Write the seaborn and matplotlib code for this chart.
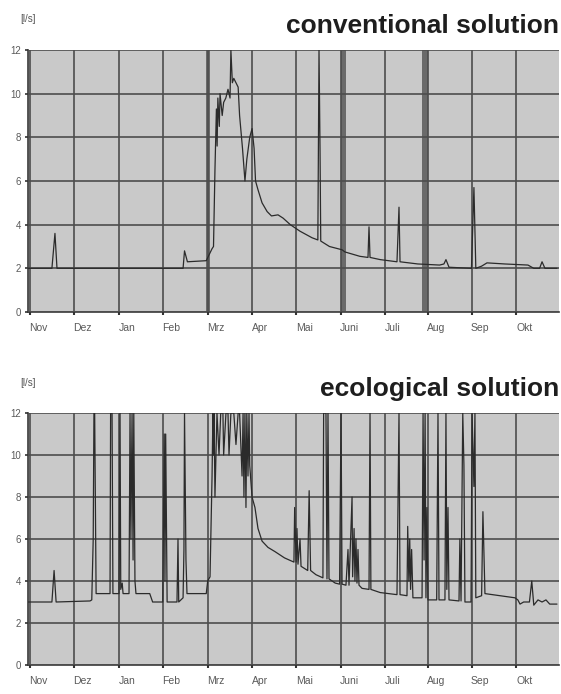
import numpy as np
import pandas as pd
import matplotlib
matplotlib.use("Agg")
import matplotlib.pyplot as plt
import seaborn as sns

# month grid (day positions of month starts) and labels
month_days = [1.4, 32, 63, 93, 124, 154.5, 185, 216, 246, 276, 306.5, 337]
month_labels = ["Nov", "Dez", "Jan", "Feb", "Mrz", "Apr", "Mai", "Juni", "Juli", "Aug", "Sep", "Okt"]
y_ticks = [0, 2, 4, 6, 8, 10, 12]

# conventional solution: discharge [l/s]
conv_day = [0, 16.5, 18.6, 20, 107, 108, 110, 123, 127, 128, 129, 130, 130.5, 131, 132,
            132.5, 134, 135, 136.5, 138, 139.4, 140, 141, 142, 143.5, 145, 146, 148, 149.7,
            151, 153, 154.6, 156, 157, 158.7, 161.5, 165, 168, 172.5, 176, 181, 187.7, 196,
            200, 200.8, 201.5, 202, 208, 216.7, 218.7, 229, 234.6, 235.3, 236, 243, 254.6,
            256, 256.7, 269, 284, 287, 288.4, 290.5, 306, 307.7, 309, 313, 316.7, 329, 345,
            349, 353, 354.7, 356.7, 365]
conv_flow = [2.0, 2.0, 3.6, 2.0, 2.0, 2.8, 2.3, 2.35, 2.9, 3.0, 6.5, 9.3, 7.6, 9.8, 8.5,
             10.0, 9.0, 9.6, 9.8, 10.2, 9.8, 12.0, 10.5, 10.7, 10.5, 10.3, 9.0, 7.5, 6.0,
             7.0, 8.0, 8.4, 7.5, 6.0, 5.6, 5.0, 4.6, 4.4, 4.45, 4.3, 4.0, 3.7, 3.4,
             3.3, 12.0, 7.5, 3.25, 3.0, 2.85, 2.75, 2.55, 2.5, 3.9, 2.5, 2.4, 2.3,
             4.8, 2.3, 2.2, 2.15, 2.2, 2.4, 2.05, 2.0, 5.7, 2.0, 2.1, 2.25, 2.2, 2.15,
             2.0, 2.0, 2.3, 2.0, 2.0]
# dark bands (missing / overflow periods) in the conventional record
conv_bands = [(123, 125.5), (216, 219.5), (272, 276)]

# ecological solution: discharge [l/s]
eco_day = [0, 16.5, 18, 19.4, 42.8, 44, 45, 45.5, 46, 47, 56.6, 57, 58, 58.6, 62.8, 63.5,
           64, 65, 65.6, 69.7, 70.4, 71, 71.8, 72.5, 73, 73.8, 74.5, 84, 86, 93, 94, 94.5,
           95, 96, 102.8, 103.5, 104, 107, 107.6, 108, 109, 109.7, 123, 124, 125.6, 127,
           127.6, 128, 128.4, 129, 130.4, 131.8, 133, 134.5, 135, 136.6, 138, 138.7, 140,
           142, 143.5, 145, 146, 147.7, 148.4, 149, 149.7, 150.4, 151, 151.8, 152.5, 153,
           154.6, 156.6, 158.7, 161.5, 165.6, 170.4, 177, 183.5, 184, 185, 185.6, 186.3,
           187.7, 188.4, 193, 194, 195, 198.7, 203.5, 204, 205.6, 206.3, 207, 207.7, 212,
           215, 216, 216.7, 219.4, 220.8, 221.5, 223.6, 224, 225, 225.6, 226.3, 227,
           227.7, 228.4, 230.5, 235.3, 236, 236.6, 243, 254.6, 256, 256.7, 261.5, 262,
           262.8, 263.4, 264, 264.7, 265.6, 271.9, 272.6, 273.3, 274, 274.6, 275.3, 276,
           282, 282.9, 283.6, 287.7, 288.4, 289, 289.8, 290.5, 297.4, 298, 298.8, 300,
           300.8, 301.5, 305.7, 306.4, 307.7, 308.4, 309, 313, 313.9, 315.3, 325.7, 336,
           338, 339.5, 342, 346, 347.6, 349, 351.9, 354.7, 357.4, 360, 365]
eco_flow = [3.0, 3.0, 4.5, 3.0, 3.05, 3.1, 6.0, 12.0, 12.0, 3.4, 3.4, 12.0, 12.0, 3.4, 3.4, 12.0,
            3.6, 3.9, 3.4, 3.4, 12.0, 6.0, 12.0, 5.0, 12.0, 4.0, 3.4, 3.4, 3.0, 3.0, 11.0, 4.0,
            11.0, 3.0, 3.0, 6.0, 3.0, 3.2, 5.5, 12.0, 5.0, 3.4, 3.4, 4.0, 4.2, 9.0,
            12.0, 10.0, 12.0, 8.0, 12.0, 10.0, 12.0, 12.0, 10.0, 12.0, 12.0, 10.0, 12.0,
            12.0, 10.5, 12.0, 12.0, 9.0, 12.0, 8.0, 12.0, 7.5, 12.0, 9.0, 12.0, 9.5,
            8.0, 7.5, 6.5, 5.9, 5.6, 5.4, 5.1, 4.9, 7.5, 4.9, 6.5, 4.8,
            6.0, 4.7, 4.5, 8.3, 4.5, 4.3, 4.15, 12.0, 12.0, 4.1, 12.0, 4.1, 3.9,
            3.85, 12.0, 3.85, 3.8, 5.5, 3.8, 8.0, 4.2, 6.5, 4.0, 6.0, 3.9,
            5.5, 3.8, 3.65, 3.6, 12.0, 3.6, 3.45, 3.35, 12.0, 3.35, 3.3, 6.6,
            4.0, 6.0, 3.6, 5.5, 3.2, 3.2, 12.0, 5.0, 12.0, 3.2, 7.5, 3.1,
            3.1, 12.0, 3.1, 3.1, 12.0, 3.6, 7.5, 3.1, 3.05, 6.0, 3.05, 12.0,
            9.5, 3.0, 3.0, 12.0, 8.5, 12.0, 3.2, 3.3, 7.3, 3.4, 3.3, 3.2,
            3.1, 2.9, 3.0, 3.0, 4.0, 2.85, 3.1, 3.0, 3.1, 2.9, 2.9]

sns.set_style("ticks", {"axes.facecolor": "#c9c9c9", "axes.edgecolor": "#4a4a4a"})
plt.rcParams["font.family"] = ["Liberation Sans", "DejaVu Sans"]

fig = plt.figure(figsize=(5.61, 6.94), dpi=100)
ax_top = fig.add_axes([28 / 561, 1 - 312 / 694, 531 / 561, 262 / 694])
ax_bot = fig.add_axes([28 / 561, 1 - 665 / 694, 531 / 561, 252 / 694])

panels = [
    (ax_top, conv_day, conv_flow, conv_bands, "conventional solution"),
    (ax_bot, eco_day, eco_flow, [], "ecological solution"),
]

for ax, days, flow, bands, title in panels:
    df = pd.DataFrame({"day": days, "flow": flow})
    for start, end in bands:
        ax.axvspan(start, end, color="#6a6a6a", lw=0, zorder=1)
    sns.lineplot(data=df, x="day", y="flow", estimator=None, sort=False,
                 color="#2b2b2b", linewidth=0.9, ax=ax, zorder=3)
    ax.set_xlim(0, 366.4)
    ax.set_ylim(0, 12)
    ax.set_xticks(month_days)
    ax.set_xticklabels([])
    ax.set_xticks([d + 5.5 for d in month_days], minor=True)
    ax.set_xticklabels(month_labels, minor=True)
    ax.tick_params(axis="x", which="major", length=2, width=1.5, color="#333333")
    ax.tick_params(axis="x", which="minor", length=0, labelsize=7.5,
                   labelcolor="#5a5a5a", pad=8)
    ax.set_yticks(y_ticks)
    ax.set_yticklabels([str(v) for v in y_ticks])
    ax.tick_params(axis="y", length=2, width=1.2, color="#333333", labelsize=7,
                   labelcolor="#5a5a5a", pad=3)
    ax.grid(True, which="major", color="#4d4d4d", linewidth=1.2, zorder=2)
    ax.set_axisbelow(False)
    ax.set_xlabel("")
    ax.set_ylabel("")
    for side in ["top", "right"]:
        ax.spines[side].set_visible(False)
    ax.spines["left"].set_color("#3a3a3a")
    ax.spines["bottom"].set_color("#3a3a3a")
    ax.spines["left"].set_linewidth(1.2)
    ax.spines["bottom"].set_linewidth(1.2)
    ax.text(1.0, 1.066, title, transform=ax.transAxes, ha="right", va="baseline",
            fontsize=19, fontweight="bold", color="#1e1e1e")
    ax.text(-0.015, 1.12, "[l/s]", transform=ax.transAxes, ha="left", va="center",
            fontsize=7, color="#555555")

fig.savefig("out.png", dpi=100, facecolor="white")
